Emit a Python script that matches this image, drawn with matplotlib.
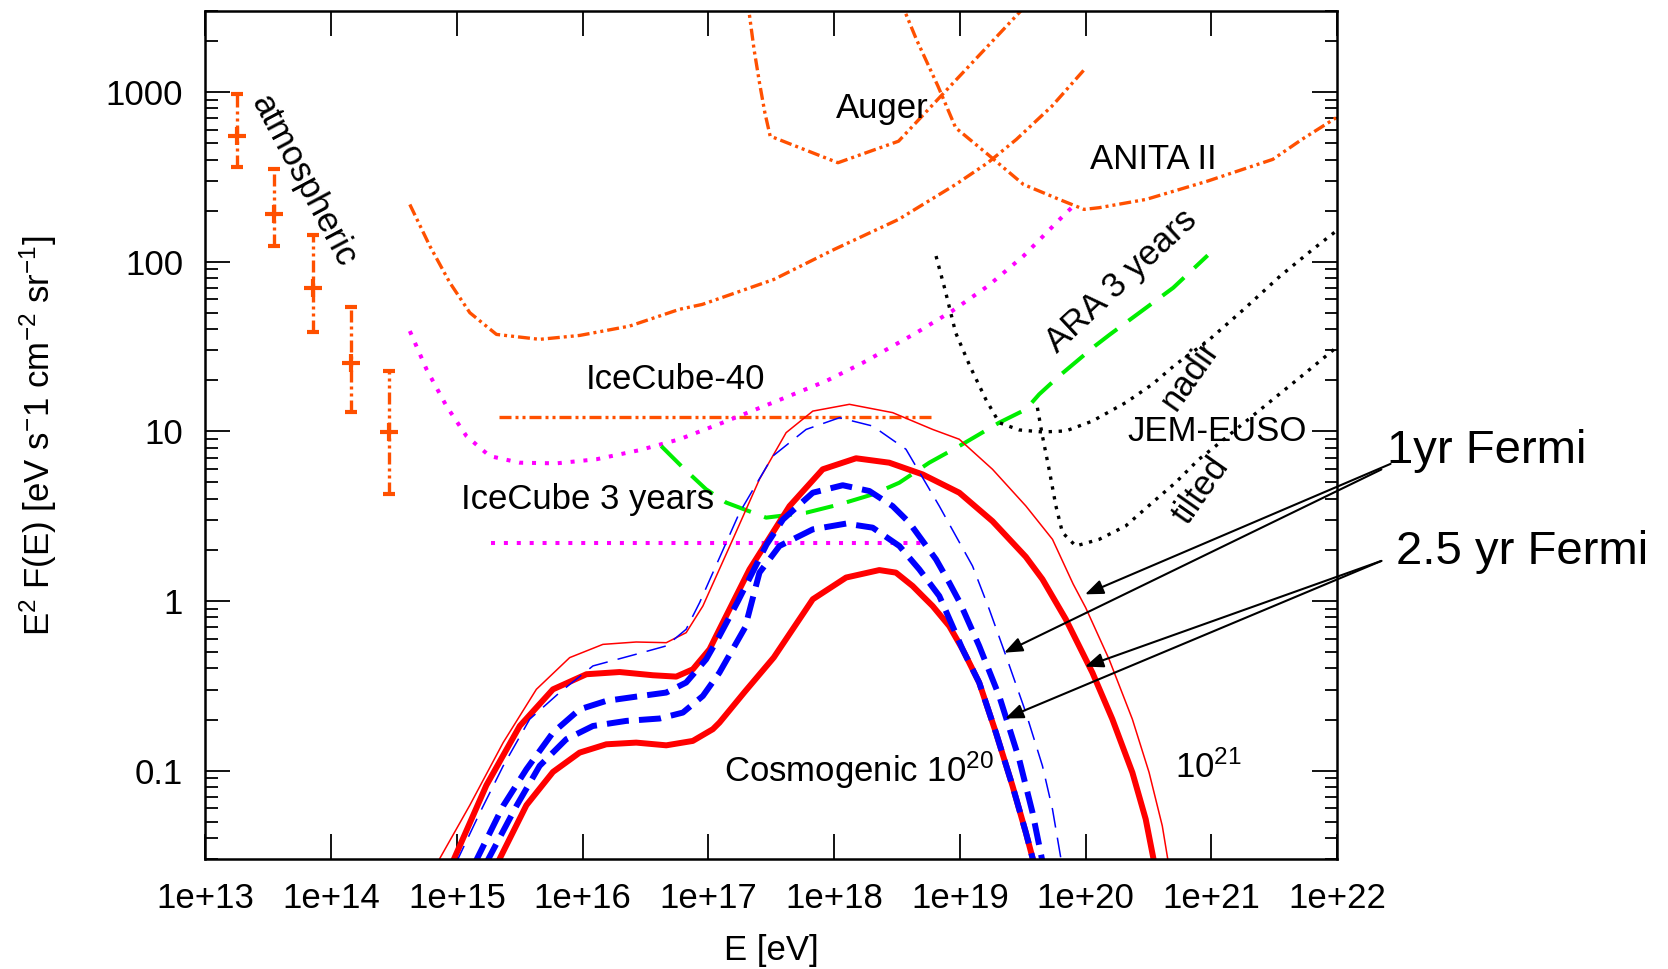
import numpy as np
import matplotlib
matplotlib.use("Agg")
import matplotlib.pyplot as plt
from matplotlib.ticker import FixedLocator, FixedFormatter, LogLocator, NullFormatter, NullLocator

plt.rcParams['font.family'] = ['Liberation Sans', 'DejaVu Sans']
plt.rcParams['mathtext.fontset'] = 'custom'
plt.rcParams['mathtext.rm'] = 'Liberation Sans'
plt.rcParams['mathtext.it'] = 'Liberation Sans:italic'
plt.rcParams['mathtext.bf'] = 'Liberation Sans:bold'
plt.rcParams['mathtext.default'] = 'regular'

ORANGE = '#ff5000'
MAGENTA = '#ff00ff'
GREEN = '#00ee00'

# all values are log10(E / eV) and log10(E^2 F / eV s^-1 cm^-2 sr^-1)

# atmospheric neutrinos
atm_logE = [13.25, 13.548, 13.86, 14.158, 14.461]
atm_logF = [2.742, 2.282, 1.842, 1.405, 0.994]
atm_lo = [2.556, 2.09, 1.587, 1.112, 0.628]
atm_hi = [2.986, 2.546, 2.155, 1.73, 1.356]

# IceCube-40 differential
ic40_logE = [14.626, 14.785, 14.944, 15.103, 15.315, 15.658, 15.976, 16.373, 16.77, 16.952,
             17.52, 18.0, 18.512, 18.966, 19.222, 19.448, 19.732, 20.002]
ic40_logF = [2.337, 2.092, 1.876, 1.699, 1.571, 1.542, 1.565, 1.62, 1.719, 1.748,
             1.895, 2.072, 2.249, 2.455, 2.583, 2.72, 2.917, 3.143]
# IceCube-40 integral
ic40i_logE = [15.335, 18.796]
ic40i_logF = [1.085, 1.085]

# IceCube 3 years differential / integral
ic3_logE = [14.626, 14.759, 14.917, 15.076, 15.261, 15.499, 15.791, 16.109, 16.453, 16.77,
            17.114, 17.512, 17.935, 18.229, 18.654, 18.938, 19.222, 19.505, 19.845, 19.931]
ic3_logF = [1.591, 1.365, 1.149, 0.972, 0.854, 0.815, 0.811, 0.835, 0.889, 0.953,
            1.051, 1.169, 1.296, 1.404, 1.581, 1.709, 1.856, 2.033, 2.288, 2.347]
ic3i_logE = [15.273, 18.756]
ic3i_logF = [0.344, 0.344]

# Auger
aug_logE = [17.3, 17.363, 17.406, 17.449, 17.491, 18.03, 18.512, 19.55]
aug_logF = [3.6, 3.251, 3.055, 2.878, 2.74, 2.583, 2.71, 3.53]

# ANITA II
ani_logE = [18.52, 18.654, 18.825, 18.966, 19.222, 19.505, 19.789, 19.987, 20.107, 20.481,
            20.97, 21.488, 21.718, 21.991]
ani_logF = [3.55, 3.31, 3.035, 2.789, 2.632, 2.455, 2.367, 2.308, 2.318, 2.367,
            2.475, 2.603, 2.72, 2.848]

# ARA 3 years
ara_logE = [16.625, 16.797, 16.982, 17.141, 17.459, 17.777, 18.042, 18.306, 18.518, 18.756,
            18.995, 19.312, 19.524, 19.63, 19.789, 20.072, 20.193, 20.696, 20.97]
ara_logF = [0.913, 0.786, 0.658, 0.58, 0.491, 0.52, 0.569, 0.628, 0.697, 0.815,
            0.913, 1.051, 1.129, 1.218, 1.326, 1.502, 1.571, 1.846, 2.037]

# JEM-EUSO nadir / tilted
nad_logE = [18.81, 18.881, 18.966, 19.079, 19.206, 19.312, 19.471, 19.656, 19.842, 20.053,
            20.318, 20.53, 20.715, 20.97, 21.257, 21.546, 21.805, 21.991]
nad_logF = [2.033, 1.836, 1.581, 1.385, 1.188, 1.051, 1.008, 0.996, 1.002, 1.06,
            1.169, 1.277, 1.394, 1.532, 1.719, 1.915, 2.072, 2.18]
til_logE = [19.616, 19.656, 19.709, 19.763, 19.815, 19.921, 20.107, 20.318, 20.53, 20.715,
            20.9, 21.033, 21.488, 21.718, 21.991]
til_logF = [1.139, 0.972, 0.776, 0.56, 0.403, 0.324, 0.363, 0.442, 0.58, 0.698,
            0.835, 0.913, 1.188, 1.326, 1.493]

# cosmogenic fluxes, Emax = 1e21 (red) and 1e20 (blue)
thinred_logE = [14.864, 15.103, 15.368, 15.632, 15.897, 16.161, 16.426, 16.665, 16.823, 16.956,
                17.194, 17.406, 17.618, 17.83, 18.121, 18.465, 18.783, 18.995, 19.259, 19.524,
                19.736, 19.9, 20.0, 20.186, 20.371, 20.504, 20.609, 20.67]
thinred_logF = [-1.518, -1.204, -0.835, -0.521, -0.334, -0.256, -0.242, -0.246, -0.187, -0.03,
                0.363, 0.717, 0.992, 1.119, 1.159, 1.11, 1.011, 0.953, 0.776, 0.56,
                0.363, 0.1, -0.04, -0.344, -0.697, -1.011, -1.326, -1.6]
thinblue_logE = [14.99, 15.183, 15.368, 15.579, 15.817, 16.082, 16.426, 16.665, 16.823, 16.93,
                 17.247, 17.512, 17.777, 18.042, 18.306, 18.571, 18.836, 19.1, 19.233, 19.366,
                 19.524, 19.656, 19.736, 19.81]
thinblue_logF = [-1.55, -1.248, -0.973, -0.697, -0.54, -0.383, -0.314, -0.265, -0.167, -0.01,
                 0.52, 0.854, 1.011, 1.08, 1.031, 0.894, 0.559, 0.206, -0.049, -0.324,
                 -0.658, -0.972, -1.228, -1.55]
red2_logE = [14.96, 15.235, 15.5, 15.764, 16.03, 16.294, 16.559, 16.744, 16.876, 17.009,
             17.088, 17.327, 17.645, 17.909, 18.174, 18.438, 18.703, 18.995, 19.259, 19.524,
             19.656, 19.842, 20.053, 20.212, 20.371, 20.477, 20.56]
red2_logF = [-1.55, -1.086, -0.737, -0.521, -0.432, -0.419, -0.438, -0.446, -0.403, -0.285,
             -0.167, 0.186, 0.559, 0.776, 0.841, 0.815, 0.746, 0.638, 0.47, 0.26,
             0.128, -0.108, -0.422, -0.697, -1.011, -1.286, -1.6]
blue1_logE = [15.14, 15.368, 15.553, 15.764, 15.976, 16.188, 16.426, 16.665, 16.823, 16.982,
              17.088, 17.236, 17.462, 17.594, 17.83, 18.068, 18.28, 18.465, 18.597, 18.81,
              18.915, 19.0, 19.153, 19.312, 19.471, 19.577, 19.66]
blue1_logF = [-1.55, -1.208, -0.992, -0.776, -0.639, -0.589, -0.564, -0.54, -0.481, -0.344,
              -0.206, 0.0, 0.332, 0.481, 0.638, 0.682, 0.648, 0.559, 0.462, 0.245,
              0.108, -0.01, -0.265, -0.56, -0.933, -1.247, -1.55]
blue2_logE = [15.23, 15.474, 15.658, 15.87, 16.082, 16.347, 16.612, 16.797, 16.956, 17.088,
              17.292, 17.406, 17.565, 17.83, 18.095, 18.306, 18.518, 18.677, 18.836, 18.941,
              19.021, 19.153, 19.286, 19.418, 19.524, 19.59]
blue2_logF = [-1.55, -1.208, -0.972, -0.815, -0.737, -0.707, -0.693, -0.658, -0.56, -0.422,
              -0.156, 0.167, 0.324, 0.422, 0.456, 0.432, 0.324, 0.186, 0.029, -0.148,
              -0.285, -0.481, -0.776, -1.09, -1.365, -1.55]
red3_logE = [15.32, 15.553, 15.764, 15.976, 16.188, 16.426, 16.665, 16.876, 17.035, 17.088,
             17.292, 17.52, 17.83, 18.095, 18.359, 18.491, 18.624, 18.703, 18.783, 18.915,
             19.021, 19.153, 19.286, 19.418, 19.524, 19.59]
red3_logF = [-1.55, -1.204, -1.008, -0.894, -0.845, -0.835, -0.851, -0.825, -0.756, -0.717,
             -0.533, -0.333, 0.01, 0.138, 0.182, 0.167, 0.088, 0.029, -0.03, -0.148,
             -0.285, -0.481, -0.776, -1.09, -1.365, -1.55]

# Fermi arrows: (tip logE, tip logF, tail logE, tail logF)
arr_1yr = [(19.995, 0.039, 22.424, 0.808), (19.352, -0.305, 22.351, 0.775)]
arr_25yr = [(19.995, -0.387, 22.351, 0.236), (19.36, -0.693, 22.351, 0.236)]


def curve(ax, le, lf, **kw):
    ax.plot(10 ** np.asarray(le), 10 ** np.asarray(lf), **kw)


fig = plt.figure(figsize=(16.68, 9.69), dpi=100)
ax = fig.add_axes([0.1231, 0.1132, 0.6786, 0.8754])
ax.set_xscale('log')
ax.set_yscale('log')

dd = (0, (3.6, 1.2, 0.9, 1.2, 0.9, 1.2))   # dash-dot-dot
curve(ax, ic40_logE, ic40_logF, color=ORANGE, lw=2.4, ls=dd)
curve(ax, ic40i_logE, ic40i_logF, color=ORANGE, lw=2.4, ls=dd)
curve(ax, aug_logE, aug_logF, color=ORANGE, lw=2.4, ls=dd)
curve(ax, ani_logE, ani_logF, color=ORANGE, lw=2.4, ls=dd)
curve(ax, ic3_logE, ic3_logF, color=MAGENTA, lw=2.9, ls=(0, (1, 2.2)))
curve(ax, ic3i_logE, ic3i_logF, color=MAGENTA, lw=2.9, ls=(0, (1, 2.2)))
curve(ax, ara_logE, ara_logF, color=GREEN, lw=2.9, ls=(0, (7, 3.5)))
curve(ax, nad_logE, nad_logF, color='black', lw=2.4, ls=(0, (1, 2)))
curve(ax, til_logE, til_logF, color='black', lw=2.4, ls=(0, (1, 2)))

# atmospheric points
yc = 10 ** np.asarray(atm_logF)
yerr = [yc - 10 ** np.asarray(atm_lo), 10 ** np.asarray(atm_hi) - yc]
eb = ax.errorbar(10 ** np.asarray(atm_logE), yc, yerr=yerr, fmt='+', ms=13, mew=3,
                 color=ORANGE, ecolor=ORANGE, elinewidth=2.4, capsize=4, capthick=2.4)
eb[2][0].set_linestyle(dd)

# cosmogenic
curve(ax, thinred_logE, thinred_logF, color='red', lw=1.1)
curve(ax, red2_logE, red2_logF, color='red', lw=4.3)
curve(ax, red3_logE, red3_logF, color='red', lw=4.3)
curve(ax, thinblue_logE, thinblue_logF, color='blue', lw=1.1, ls=(0, (13, 6.7)))
curve(ax, blue1_logE, blue1_logF, color='blue', lw=4.3, ls=(0, (3.7, 1.7)))
curve(ax, blue2_logE, blue2_logF, color='blue', lw=4.3, ls=(0, (3.7, 1.7)))

ax.set_xlim(1e13, 1e22)
ax.set_ylim(0.03, 3000)

ax.xaxis.set_major_locator(FixedLocator(10.0 ** np.arange(13, 23)))
ax.xaxis.set_major_formatter(FixedFormatter(['1e+%d' % k for k in range(13, 23)]))
ax.xaxis.set_minor_locator(NullLocator())
ax.yaxis.set_major_locator(FixedLocator([0.1, 1, 10, 100, 1000]))
ax.yaxis.set_major_formatter(FixedFormatter(['0.1', '1', '10', '100', '1000']))
ax.yaxis.set_minor_locator(LogLocator(base=10, subs=np.arange(2, 10), numticks=20))
ax.yaxis.set_minor_formatter(NullFormatter())
ax.tick_params(which='both', direction='in', top=True, right=True, labelsize=25, pad=16, width=1.3)
ax.tick_params(which='major', length=18)
ax.tick_params(which='minor', length=9)
for s in ax.spines.values():
    s.set_linewidth(1.8)

ax.set_xlabel('E [eV]', fontsize=25)
ax.xaxis.set_label_coords(0.5, -0.088)
ax.set_ylabel('E$^2$ F(E) [eV s$^{-}$1 cm$^{-2}$ sr$^{-1}$]', fontsize=25)
ax.yaxis.set_label_coords(-0.129, 0.5)

fs = 25
ax.text(10 ** 13.778, 10 ** 2.479, 'atmospheric', fontsize=fs, rotation=-62, ha='center', va='center')
ax.text(10 ** 18.383, 10 ** 2.9, 'Auger', fontsize=fs, ha='center', va='center')
ax.text(10 ** 20.537, 10 ** 2.605, 'ANITA II', fontsize=fs, ha='center', va='center')
ax.text(10 ** 16.735, 10 ** 1.307, 'IceCube-40', fontsize=fs, ha='center', va='center')
ax.text(10 ** 16.042, 10 ** 0.599, 'IceCube 3 years', fontsize=fs, ha='center', va='center')
ax.text(10 ** 20.284, 10 ** 1.884, 'ARA 3 years', fontsize=fs, rotation=43, ha='center', va='center')
ax.text(10 ** 20.833, 10 ** 1.333, 'nadir', fontsize=fs, rotation=55, ha='center', va='center')
ax.text(10 ** 21.044, 10 ** 1.0, 'JEM-EUSO', fontsize=fs, ha='center', va='center')
ax.text(10 ** 20.917, 10 ** 0.649, 'tilted', fontsize=fs, rotation=55, ha='center', va='center')
ax.text(10 ** 18.197, 10 ** -1.0, 'Cosmogenic 10$^{20}$', fontsize=fs, ha='center', va='center')
ax.text(10 ** 20.976, 10 ** -0.98, '10$^{21}$', fontsize=fs, ha='center', va='center')

ax.text(10 ** 22.394, 10 ** 0.885, '1yr Fermi', fontsize=34, ha='left', va='center', clip_on=False)
ax.text(10 ** 22.465, 10 ** 0.286, '2.5 yr Fermi', fontsize=34, ha='left', va='center', clip_on=False)

for te, tf, se, sf in arr_1yr + arr_25yr:
    ax.annotate('', xy=(10 ** te, 10 ** tf), xytext=(10 ** se, 10 ** sf),
                arrowprops=dict(arrowstyle='-|>,head_length=0.55,head_width=0.22', color='black',
                                lw=1.5, mutation_scale=20, shrinkA=0, shrinkB=0),
                annotation_clip=False)

fig.savefig('out.png', dpi=100)
